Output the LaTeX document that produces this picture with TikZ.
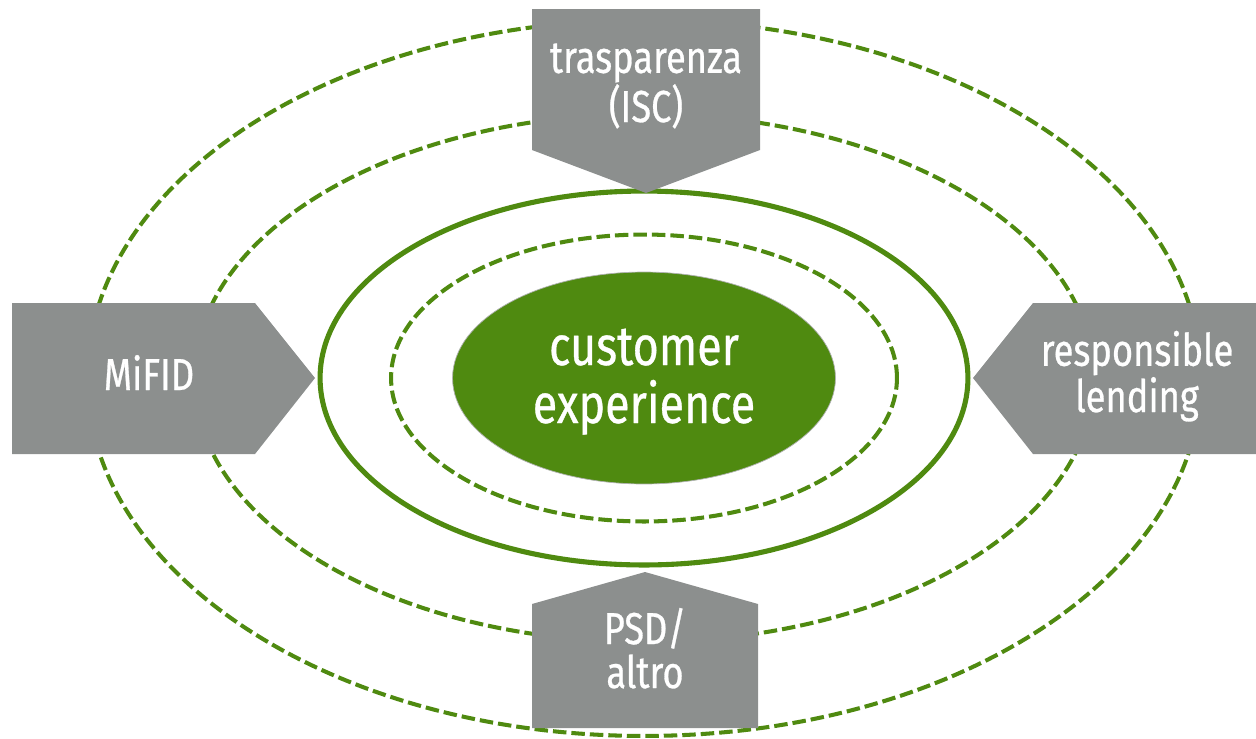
\documentclass[tikz,border=0pt]{standalone}
\usepackage{fontspec}
\setmainfont[FakeStretch=0.81,FakeBold=0.6]{Fira Sans}
\definecolor{leaf}{RGB}{79,138,16}
\definecolor{slate}{RGB}{140,143,142}
\begin{document}
\begin{tikzpicture}[x=0.02cm,y=-0.02cm,
  ring/.style={draw=leaf,line width=2.3pt,dash pattern=on 0.27cm off 0.1cm},
  tag/.style={fill=slate},
  label/.style={text=white,align=center,font=\fontsize{25.5}{25}\selectfont,inner sep=0pt},
  core/.style={text=white,align=center,font=\fontsize{31.5}{33}\selectfont,inner sep=0pt}]
\useasboundingbox (0,0) rectangle (1256,738);
\coordinate (c) at (644,378);
% concentric rings
\draw[ring] (c) ellipse [x radius=11.14cm, y radius=7.16cm];
\draw[ring] (c) ellipse [x radius=9cm, y radius=5.28cm];
\draw[ring] (c) ellipse [x radius=5.06cm, y radius=2.87cm];
\draw[leaf,line width=2.9pt] (c) ellipse [x radius=6.48cm, y radius=3.74cm];
\fill[leaf,draw=slate!70,line width=0.4pt] (c) ellipse [x radius=3.83cm, y radius=2.12cm];
% pointing tags
\fill[tag] (532,9) -- (760,9) -- (760,150) -- (646,193) -- (532,150) -- cycle;
\fill[tag] (12,303) -- (255,303) -- (315,378) -- (255,454) -- (12,454) -- cycle;
\fill[tag] (1256,303) -- (1033,303) -- (973,378) -- (1033,454) -- (1256,454) -- cycle;
\fill[tag] (532,728) -- (758,728) -- (758,604) -- (645,572) -- (532,604) -- cycle;
% texts (base anchor sits on the last line)
\node[label,anchor=base] (top) at (646,122) {trasparenza\\(ISC)};
\node[label,anchor=base] (left) at (149,390) {MiFID};
\node[label,anchor=base] (right) at (1137,412) {responsible\\lending};
\node[label,anchor=base] (bottom) at (645,688) {PSD/\\altro};
\node[core,anchor=base] (mid) at (644,423) {customer\\experience};
\end{tikzpicture}
\end{document}
